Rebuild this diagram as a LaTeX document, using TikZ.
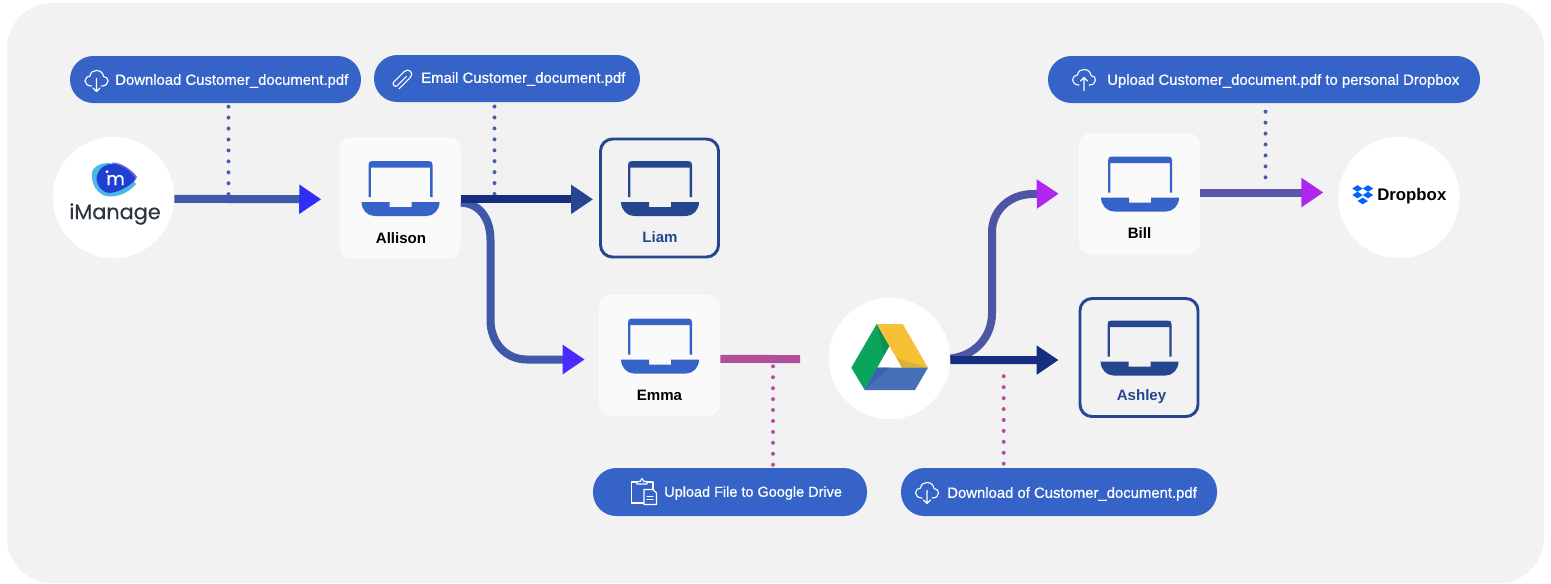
\documentclass[tikz,border=0pt]{standalone}
\usepackage{fontspec}
\usetikzlibrary{arrows.meta}
\setmainfont{Liberation Sans}
\newfontfamily\pillfont[FakeBold=0.7]{Liberation Sans}
\newfontfamily\namefont{Liberation Sans Bold}
\newfontfamily\logofont[FakeBold=0.4]{Poppins}
\definecolor{bgc}{HTML}{F2F2F2}
\definecolor{cardc}{HTML}{FAFAFA}
\definecolor{pillc}{HTML}{3563C8}
\definecolor{lapdark}{HTML}{26478F}
\definecolor{navy}{HTML}{172E80}
\definecolor{flowa}{HTML}{4058A8}
\definecolor{flowb}{HTML}{5B55A8}
\definecolor{flowc}{HTML}{4F55A5}
\definecolor{barc}{HTML}{B0509C}
\definecolor{dotb}{HTML}{4A5CB0}
\definecolor{dotp}{HTML}{B54FA5}
\definecolor{heada}{HTML}{2E2EF5}
\definecolor{headb}{HTML}{4A2BFF}
\definecolor{headc}{HTML}{B026EE}
\definecolor{imcyan}{HTML}{4CB8E8}
\definecolor{impurple}{HTML}{6A5FE8}
\definecolor{imblue}{HTML}{1E3FCF}
\definecolor{imtext}{HTML}{2D3540}
\definecolor{dbx}{HTML}{0061FF}
\definecolor{dgreen}{HTML}{0BA45B}
\definecolor{dgreenb}{HTML}{0E8F55}
\definecolor{dyellow}{HTML}{F6C134}
\definecolor{dyellowb}{HTML}{E0B036}
\definecolor{dblue}{HTML}{4570B8}
\definecolor{dblueb}{HTML}{3B62B0}
\tikzset{
  x=0.75pt,y=-0.75pt,
  bgpanel/.style={fill=bgc,rounded corners=34pt},
  pillbox/.style 2 args={rectangle,fill=pillc,rounded corners=17.5pt,inner sep=0pt,minimum width=#1*0.75pt,minimum height=#2*0.75pt},
  cardbox/.style={rectangle,fill=cardc,rounded corners=9pt,inner sep=0pt,minimum width=90.75pt,minimum height=91pt},
  cardline/.style={rectangle,draw=lapdark,line width=2.2pt,rounded corners=9pt,inner sep=0pt,minimum width=88.5pt,minimum height=88.5pt},
  roundbox/.style={circle,fill=white,inner sep=0pt,minimum size=91pt},
  pilltext/.style={anchor=west,text=white,inner sep=0pt,font=\pillfont\fontsize{11.15}{13}\selectfont},
  namelabel/.style={inner sep=0pt,font=\namefont\fontsize{11.3}{13}\selectfont},
  flow/.style={line width=6pt},
  tipped/.style={-{Triangle[length=16.5pt,width=21pt,color=#1]}},
  dotted line/.style={line width=3pt,line cap=round,dash pattern=on 0pt off 8.2pt},
  icon/.style={draw=white,line width=0.85pt,line cap=round,line join=round},
}
\newcommand\laptop[2]{%
  \begin{scope}[shift={(#1)},xshift=0.4pt]
    \fill[#2] (-32,-1) -- (-32,-33) .. controls (-32,-36) and (-31,-37) .. (-28,-37) -- (28,-37) .. controls (31,-37) and (32,-36) .. (32,-33) -- (32,-1) -- (29.7,-1) -- (29.7,-30.5) -- (-29.7,-30.5) -- (-29.7,-1) -- cycle;
    \fill[#2] (-39,4) -- (-11,4) -- (-11,9) -- (11,9) -- (11,4) -- (39,4) .. controls (39,12) and (33,18) .. (26,18) -- (-26,18) .. controls (-33,18) and (-39,12) .. (-39,4) -- cycle;
  \end{scope}}
\newcommand\cloudshape[1]{%
  \draw[icon,shift={(#1)}] (-5,6) .. controls (-9,6) and (-11.5,3.5) .. (-11.5,1) .. controls (-11.5,-2) and (-9,-4) .. (-6.5,-4) .. controls (-6,-8) and (-3,-9.5) .. (0,-9.5) .. controls (4,-9.5) and (6.5,-7) .. (7,-3.5) .. controls (10,-3.5) and (11.5,-1) .. (11.5,1) .. controls (11.5,4) and (9,6) .. (5,6);}
\newcommand\clouddown[1]{\cloudshape{#1}%
  \draw[icon,shift={(#1)}] (0,-1.5) -- (0,11.5) (-3.5,8) -- (0,11.5) -- (3.5,8);}
\newcommand\cloudup[1]{\cloudshape{#1}%
  \draw[icon,shift={(#1)}] (0,11.5) -- (0,-1.5) (-3.5,2) -- (0,-1.5) -- (3.5,2);}
\begin{document}
\begin{tikzpicture}
\useasboundingbox (0,0) rectangle (1551,583);
\fill[white] (0,0) rectangle (1551,583);
\fill[bgpanel] (7,3) rectangle (1544,583);

% pills
\node[pillbox={291}{47}] (p1) at (215.5,79.5) {};
\node[pillbox={266}{47}] (p2) at (507,78.5) {};
\node[pillbox={432}{47}] (p3) at (1264,79.5) {};
\node[pillbox={274}{48}] (p4) at (730,492) {};
\node[pillbox={316}{48}] (p5) at (1059,492) {};
\node[pilltext] (t1) at (115,81) {Download Customer\_document.pdf};
\node[pilltext] (t2) at (421,79) {Email Customer\_document.pdf};
\node[pilltext] (t3) at (1107,81) {Upload Customer\_document.pdf to personal Dropbox};
\node[pilltext] (t4) at (664,493) {\fontsize{10.85}{13}\selectfont Upload File to Google Drive};
\node[pilltext] (t5) at (947,494) {Download of Customer\_document.pdf};

% round nodes
\node[roundbox] (imanage) at (113.5,197.5) {};
\node[roundbox] (dropbox) at (1399,197.5) {};
\node[roundbox] (drive) at (889.5,358.5) {};

% cards
\node[cardbox] (allison) at (400,198) {};
\node[cardbox] (emma) at (659.5,355.5) {};
\node[cardbox] (bill) at (1139.5,193.5) {};
\node[cardline] (liam) at (659.5,198) {};
\node[cardline] (ashley) at (1139,357.5) {};
\laptop{allison.center}{pillc}
\laptop{emma.center}{pillc}
\laptop{bill.center}{pillc}
\laptop{liam.center}{lapdark}
\laptop{ashley.center}{lapdark}
\node[namelabel,text=black] (nallison) at (401,238) {Allison};
\node[namelabel,text=black] (nemma) at (659.5,395) {Emma};
\node[namelabel,text=black] (nbill) at (1139.5,233) {Bill};
\node[namelabel,text=lapdark] (nliam) at (660,237) {Liam};
\node[namelabel,text=lapdark] (nashley) at (1141.5,397) {Ashley};

% dotted links
\coordinate (d1a) at (228.5,106.7);
\coordinate (d1b) at (228.5,197);
\coordinate (d2a) at (494.5,194);
\coordinate (d2b) at (494.5,104);
\coordinate (d3a) at (1265.5,111.7);
\coordinate (d3b) at (1265.5,180);
\coordinate (d4a) at (773,464.7);
\coordinate (d4b) at (773,366);
\coordinate (d5a) at (1003.7,463.7);
\coordinate (d5b) at (1003.7,366);
\draw[dotted line,dotb] (d1a) -- (d1b);
\draw[dotted line,dotb] (d2a) -- (d2b);
\draw[dotted line,dotb] (d3a) -- (d3b);
\draw[dotted line,dotp] (d4a) -- (d4b);
\draw[dotted line,dotp] (d5a) -- (d5b);

% connectors
\coordinate (a1) at (490.5,240);
\coordinate (a2) at (490.5,320);
\coordinate (a3) at (527,359.5);
\coordinate (b1) at (992,313);
\coordinate (b2) at (992,232);
\coordinate (b3) at (1033,194);
\coordinate (barend) at (800,359);
\draw[flow,flowa,tipped=headb,shorten >=10.5pt] ([yshift=-3.5pt]allison.east) .. controls (479,203) and (490.5,218) .. (a1) -- (a2) .. controls (490.5,342) and (505,359.5) .. (a3)
  -- ([yshift=-3pt]emma.west);
\draw[flow,navy,tipped=lapdark,shorten >=4.5pt] ([yshift=-1pt]allison.east) -- ([yshift=-1pt]liam.west);
\draw[flow,flowa,tipped=heada,shorten >=13.5pt] ([yshift=-1pt]imanage.east) -- ([yshift=-1pt]allison.west);
\draw[flow,barc] ([yshift=-2.6pt]emma.east) -- (barend);
\draw[flow,flowc,tipped=headc,shorten >=15pt] (drive.east) .. controls (974,356) and (992,338) .. (b1) -- (b2) .. controls (992,210) and (1010,194) .. (b3)
  -- (bill.west);
\draw[flow,navy,tipped=navy,shorten >=15pt] ([yshift=-1.2pt]drive.east) -- ([yshift=-1.9pt]ashley.west);
\draw[flow,flowb,tipped=headc,shorten >=11pt] ([yshift=.75pt]bill.east) -- ([yshift=3.75pt]dropbox.west);

% icons
\clouddown{96.5,80}
\clouddown{927,492}
\cloudup{1084,79}
\draw[icon,shift={(401.5,80)},rotate=-45] (1,-6) -- (1,7) .. controls (1,10) and (-4,10) .. (-4,7) -- (-4,-8) .. controls (-4,-14) and (4.5,-14) .. (4.5,-8) -- (4.5,8);
\draw[icon] (637,482) -- (631.5,482) -- (631.5,503) -- (644,503);
\draw[icon] (647,482) -- (653,482) -- (653,489);
\draw[icon] (637,484) -- (637,481.5) -- (640,481.5) -- (642,478.5) -- (644,481.5) -- (647,481.5) -- (647,484) -- cycle;
\draw[icon,fill=pillc] (644,489.5) -- (653,489.5) -- (656.5,493) -- (656.5,504.5) -- (644,504.5) -- cycle;
\draw[icon] (647,496.5) -- (653,496.5) (647,499.5) -- (653,499.5);

% iManage logo
\fill[imcyan] (92,178) .. controls (90,168) and (98,163) .. (110,163) -- (125,170) -- (136,184) .. controls (127,195) and (112,199) .. (103,195) .. controls (96,191) and (93,186) .. (92,178) -- cycle;
\fill[impurple] (112,162.5) .. controls (122,162.5) and (132,170) .. (137,177) .. controls (135,182) and (130,185) .. (124,187) -- cycle;
\fill[imblue] (96.5,178) .. controls (98,168) and (106,163.5) .. (113,164) .. controls (122,164.5) and (131,172) .. (135,178) .. controls (134,184) and (120,192) .. (110,193) .. controls (103,193) and (97,187) .. (96.5,178) -- cycle;
\fill[white] (107,171.7) circle (1.7);
\node[inner sep=0pt,text=white,font=\logofont\fontsize{13.5}{14}\selectfont] (imgm) at (115.5,180) {m};
\node[inner sep=0pt,text=imtext,font=\logofont\fontsize{15.6}{18}\selectfont] (imgt) at (115,214) {iManage};

% Dropbox logo
\foreach \cx/\cy in {1357.5/188.5,1368/188.5,1357.5/195,1368/195,1362.7/201}{
  \fill[dbx] (\cx-5.2,\cy) -- (\cx,\cy-3.3) -- (\cx+5.2,\cy) -- (\cx,\cy+3.3) -- cycle;
}
\node[inner sep=0pt,anchor=west,text=black,font=\namefont\fontsize{12.6}{14}\selectfont] (dbxt) at (1377,196) {Dropbox};

% Drive logo
\fill[dgreen] (876.7,324) -- (889.3,346) -- (864.7,390) -- (851.3,367.7) -- cycle;
\fill[dgreenb] (876.7,324) -- (889.3,346) -- (884,355) -- cycle;
\fill[dyellow] (876.7,324) -- (902.7,324) -- (928,367.7) -- (902,367.7) -- cycle;
\fill[dyellowb] (896.6,358) -- (928,367.7) -- (902,367.7) -- cycle;
\fill[dblue] (877,367.7) -- (928,367.7) -- (915,390) -- (864.7,390) -- cycle;
\fill[dblueb] (877,367.7) -- (889.3,367.7) -- (864.7,390) -- cycle;
\end{tikzpicture}
\end{document}
